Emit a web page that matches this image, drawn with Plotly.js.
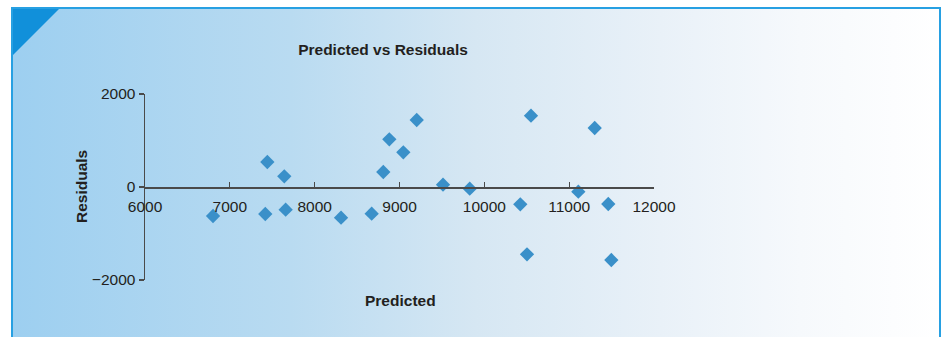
<!DOCTYPE html>
<html>
<head>
<meta charset="utf-8">
<script src="https://cdn.plot.ly/plotly-3.0.1.min.js"></script>
<style>
html,body{margin:0;padding:0;width:946px;height:337px;overflow:hidden;background:#fff;}
#frame{position:absolute;left:11px;top:7px;width:926px;height:340px;border:2px solid #27a0e2;border-bottom:none;
background:linear-gradient(to right,#9dcff0 0%,#b9dbf1 30%,#d6e7f3 50%,#e9f1f8 70%,#f6f9fc 85%,#ffffff 100%);}
#tri{position:absolute;left:13px;top:9px;width:46px;height:46px;background:#1190da;clip-path:polygon(0 0,100% 0,0 100%);}
#chart{position:absolute;left:0;top:0;width:946px;height:337px;}
</style>
</head>
<body>
<div id="frame"></div>
<div id="tri"></div>
<div id="chart"></div>
<script>
const predicted = [6802, 7442, 7642, 7418, 7658, 8311, 8672, 8809, 8880, 9045, 9203, 9513, 9828, 10550, 11301, 11108, 10424, 11461, 10503, 11497];
const residuals = [-624, 538, 230, -581, -488, -660, -574, 323, 1025, 746, 1441, 49, -36, 1534, 1269, -100, -373, -366, -1448, -1570];
const xTicks = [6000, 7000, 8000, 9000, 10000, 11000, 12000];
const yTicks = [-2000, 0, 2000];
const yTickText = ['\u22122000', '0', '2000'];

const fontFam = '"Liberation Sans", Arial, sans-serif';
const fs = 15.5;
const data = [{
  x: predicted, y: residuals, type: 'scatter', mode: 'markers',
  marker: {symbol: 'diamond', size: 11, color: '#3a90c9'},
  cliponaxis: false, hoverinfo: 'x+y'
}];
const layout = {
  width: 946, height: 337,
  margin: {l: 145, r: 292, t: 94, b: 57},
  paper_bgcolor: 'rgba(0,0,0,0)', plot_bgcolor: 'rgba(0,0,0,0)',
  showlegend: false,
  font: {family: fontFam, color: '#231f20', size: fs},
  title: {text: '<b>Predicted vs Residuals</b>', x: (383-145)/509, xref: 'paper', xanchor: 'center', y: 1 - 50/337, yanchor: 'middle', font: {size: fs, family: fontFam, color: '#231f20'}},
  xaxis: {
    range: [6000, 12000], anchor: 'free', position: 0.5, side: 'bottom',
    tickvals: xTicks, ticktext: xTicks.map(String),
    showgrid: false, zeroline: false, showline: true, linecolor: '#4a4a4a', linewidth: 1.5,
    ticks: 'inside', ticklen: 5, tickcolor: '#4a4a4a', tickwidth: 1.2,
    tickfont: {size: fs, color: '#231f20'}, ticklabelstandoff: 5
  },
  yaxis: {
    range: [-2000, 2000],
    tickvals: yTicks, ticktext: yTickText,
    showgrid: false, zeroline: false, showline: true, linecolor: '#4a4a4a', linewidth: 1.5,
    ticks: 'outside', ticklen: 5, tickcolor: '#4a4a4a', tickwidth: 1.2,
    tickfont: {size: fs, color: '#231f20'}
  },
  annotations: [
    {text: '<b>Predicted</b>', xref: 'paper', yref: 'paper', x: (400-145)/509, y: -(300-280)/186, xanchor: 'center', yanchor: 'middle', showarrow: false, font: {size: fs}},
    {text: '<b>Residuals</b>', xref: 'paper', yref: 'paper', x: -(145-81)/509, y: 0.5, xanchor: 'center', yanchor: 'middle', textangle: -90, showarrow: false, font: {size: fs}}
  ]
};
Plotly.newPlot('chart', data, layout, {displayModeBar: false, staticPlot: true});
</script>
</body>
</html>
